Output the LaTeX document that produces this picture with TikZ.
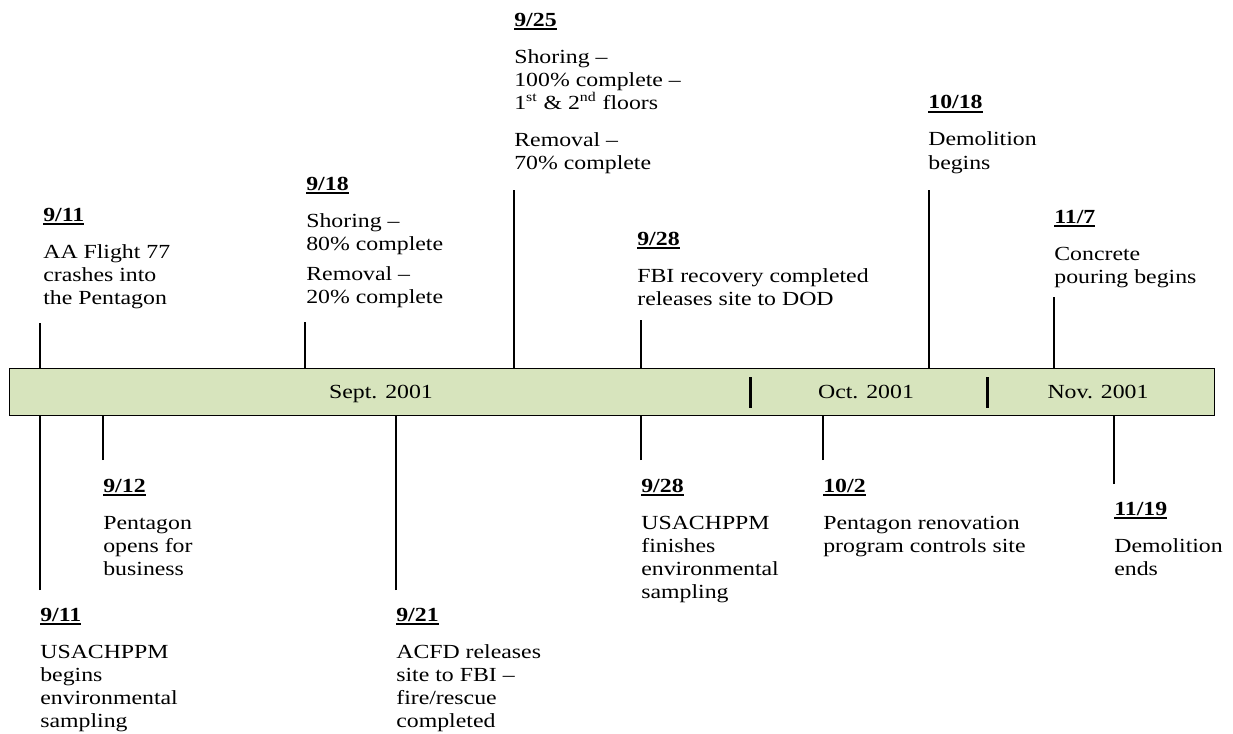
\documentclass[tikz,border=0pt]{standalone}
\usepackage{fontspec}
\setmainfont{Liberation Serif}[FakeStretch=1.19]
\usepackage{tikz}
\definecolor{bargreen}{RGB}{215,228,189}
\newcommand{\dte}[1]{\setbox0\hbox{\textbf{#1}}\rlap{\rule[-2.2pt]{\wd0}{0.9pt}}\box0}

\begin{document}
\begin{tikzpicture}[x=0.6pt, y=-0.6pt,
  evt/.style={anchor=base west, align=left, inner sep=0pt, font=\fontsize{12}{13.8}\selectfont},
  month/.style={anchor=base, inner sep=0pt, font=\fontsize{12}{13.8}\selectfont},
  tick/.style={line width=0.7pt},
  divider/.style={line width=1.8pt}]
\useasboundingbox (0,0) rectangle (1233,733);
\node[draw, line width=0.8pt, fill=bargreen, anchor=north west, inner sep=0pt,
  minimum width=723pt, minimum height=28.2pt] (bar) at (9,368) {};
\node[month] (mSep) at (381,398) {Sept. 2001};
\node[month] (mOct) at (866,398) {Oct. 2001};
\node[month] (mNov) at (1098,398) {Nov. 2001};
\draw[divider] (750,377) -- (750,408);
\draw[divider] (987,377) -- (987,408);

% above the bar (nodes sit on the baseline of their last line)
\coordinate (a911) at (40,323);
\coordinate (a918) at (305,322);
\coordinate (a925) at (514,190);
\coordinate (a928) at (641,320);
\coordinate (a1018) at (929,190);
\coordinate (a117) at (1054,297);
\foreach \t in {a911,a918,a925,a928,a1018,a117}
  \draw[tick] (\t) -- (\t |- bar.north);
\node[evt] (e911) at (43,304) {\dte{9/11}\\[8.4pt] AA Flight 77\\ crashes into\\ the Pentagon};
\node[evt] (e918) at (306,303) {\dte{9/18}\\[8.4pt] Shoring --\\ 80\% complete\\[4.2pt] Removal --\\ 20\% complete};
\node[evt] (e925) at (514,169) {\dte{9/25}\\[8.4pt] Shoring --\\ 100\% complete --\\ 1\textsuperscript{st} \& 2\textsuperscript{nd} floors\\[8.4pt] Removal --\\ 70\% complete};
\node[evt] (e928) at (637,305) {\dte{9/28}\\[8.4pt] FBI recovery completed\\ releases site to DOD};
\node[evt] (e1018) at (928,169) {\dte{10/18}\\[8.4pt] Demolition\\ begins};
\node[evt] (e117) at (1054,283) {\dte{11/7}\\[8.4pt] Concrete\\ pouring begins};

% below the bar
\coordinate (b911) at (40,590);
\coordinate (b912) at (103,460);
\coordinate (b921) at (396,590);
\coordinate (b928) at (641,460);
\coordinate (b102) at (823,460);
\coordinate (b1119) at (1114,484);
\foreach \t in {b911,b912,b921,b928,b102,b1119}
  \draw[tick] (\t) -- (\t |- bar.south);
\node[evt] (f911) at (40,727) {\dte{9/11}\\[8.4pt] USACHPPM\\ begins\\ environmental\\ sampling};
\node[evt] (f912) at (103,575) {\dte{9/12}\\[8.4pt] Pentagon\\ opens for\\ business};
\node[evt] (f921) at (396,727) {\dte{9/21}\\[8.4pt] ACFD releases\\ site to FBI --\\ fire/rescue\\ completed};
\node[evt] (f928) at (641,598) {\dte{9/28}\\[8.4pt] USACHPPM\\ finishes\\ environmental\\ sampling};
\node[evt] (f102) at (823,552) {\dte{10/2}\\[8.4pt] Pentagon renovation\\ program controls site};
\node[evt] (f1119) at (1114,575) {\dte{11/19}\\[8.4pt] Demolition\\ ends};
\end{tikzpicture}
\end{document}
